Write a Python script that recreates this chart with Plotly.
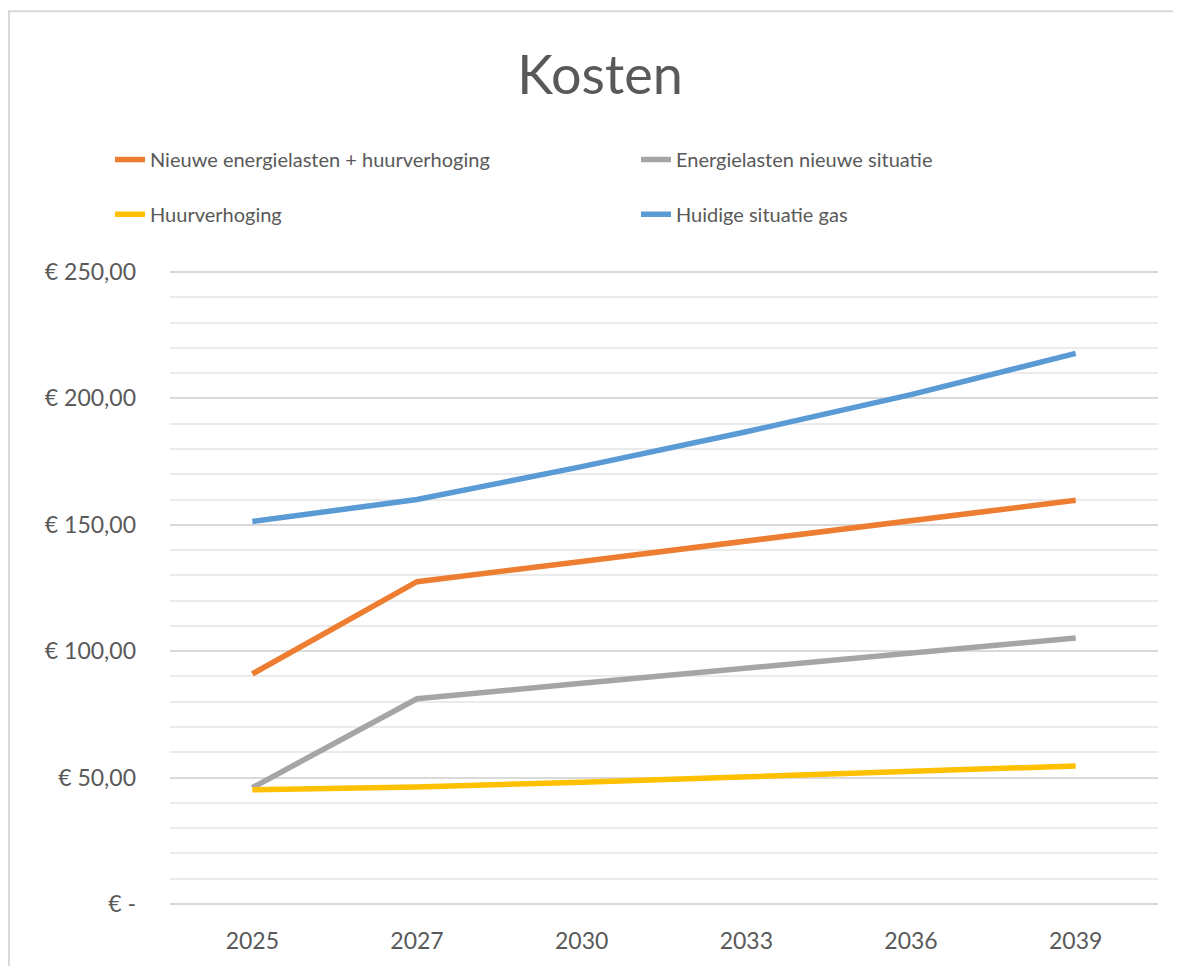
import plotly.graph_objects as go

years = ["2025", "2027", "2030", "2033", "2036", "2039"]
nieuwe_totaal = [91.0, 127.5, 135.5, 143.5, 151.5, 159.7]
energie_nieuw = [46.0, 81.2, 87.3, 93.3, 99.2, 105.2]
huurverhoging = [45.2, 46.3, 48.2, 50.5, 52.6, 54.6]
huidige_gas = [151.3, 160.0, 173.0, 186.8, 201.5, 217.8]

series_names = ["Nieuwe energielasten + huurverhoging", "Energielasten nieuwe situatie",
                "Huurverhoging", "Huidige situatie gas"]
series_colors = ["#ED7D31", "#A5A5A5", "#FFC000", "#5B9BD5"]
series_data = [nieuwe_totaal, energie_nieuw, huurverhoging, huidige_gas]
series_legend = ["legend", "legend2", "legend3", "legend4"]

tick_vals = [0, 50, 100, 150, 200, 250]
tick_text = ["€ -", "€ 50,00", "€ 100,00", "€ 150,00", "€ 200,00", "€ 250,00"]

FONT = "Lato"
GRAY = "#595959"

fig = go.Figure()
for name, color, data, lg in zip(series_names, series_colors, series_data, series_legend):
    fig.add_trace(go.Scatter(x=years, y=data, name=name, mode="lines", showlegend=True,
                             line=dict(color=color, width=5.5), legend=lg))

# page body has an 8px margin; figure coords = screen - 8
W, H = 1165, 958
L, R, T, B = 162, 15, 263, 58
pw = W - L - R
ph = H - T - B

def px_x(p):
    return (p - L) / pw

def px_y(p):
    return (H - B - p) / ph

def legend_at(xp, yp):
    return dict(x=px_x(xp), xanchor="left", y=px_y(yp), yanchor="middle",
                font=dict(size=20, color=GRAY), bgcolor="rgba(0,0,0,0)", itemwidth=30)

fig.update_layout(
    width=W, height=H,
    showlegend=True,
    margin=dict(l=L, r=R, t=T, b=B),
    paper_bgcolor="white", plot_bgcolor="white",
    font=dict(family=FONT, color=GRAY),
    title=dict(text="Kosten", x=592 / W, xanchor="center", y=1 - 67 / H, yanchor="middle",
               font=dict(size=54, color=GRAY, family=FONT)),
    legend=legend_at(102, 151),
    legend2=legend_at(628, 151),
    legend3=legend_at(102, 206),
    legend4=legend_at(628, 206),
    xaxis=dict(type="category", range=[-0.5, 5.5], showgrid=False, showline=False,
               ticks="", tickfont=dict(size=23, color=GRAY), ticklabelstandoff=20,
               fixedrange=True),
    yaxis=dict(range=[-0.4, 250.4], tickvals=tick_vals, ticktext=tick_text, showgrid=True,
               gridcolor="#D9D9D9", gridwidth=1.5, zeroline=False, showline=False, ticks="",
               tickfont=dict(size=23, color=GRAY), ticklabelstandoff=33,
               minor=dict(dtick=10, showgrid=True, gridcolor="#EBEBEB", gridwidth=1.5),
               fixedrange=True),
    shapes=[dict(type="rect", xref="paper", yref="paper", x0=px_x(1), x1=px_x(1300),
                 y0=px_y(1100), y1=px_y(2), line=dict(color="#D9D9D9", width=2),
                 fillcolor="rgba(0,0,0,0)", layer="below")],
)

fig.write_html("out.html")
